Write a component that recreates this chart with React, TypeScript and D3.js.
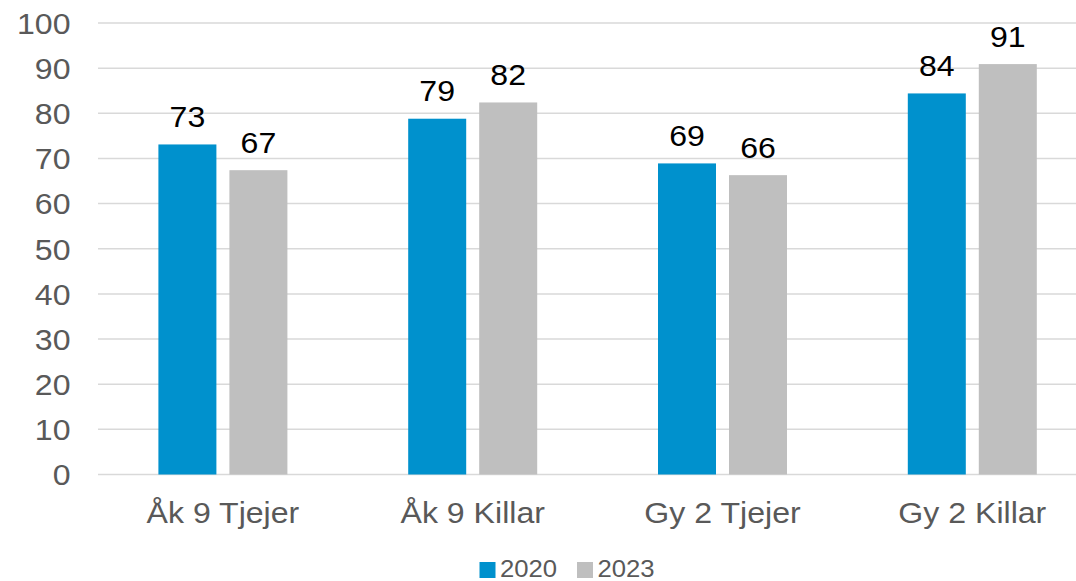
import React from "react";
import * as d3 from "d3";

const categories = ["Åk 9 Tjejer", "Åk 9 Killar", "Gy 2 Tjejer", "Gy 2 Killar"];
const seriesNames = ["2020", "2023"];
const values2020 = [73.1, 78.8, 68.9, 84.4];
const values2023 = [67.4, 82.4, 66.3, 90.9];
const yTicks = [0, 10, 20, 30, 40, 50, 60, 70, 80, 90, 100];
const colors = ["#0091CD", "#BFBFBF"];

const W = 1076;
const H = 581;
const FONT = "'Liberation Sans', Arial, Helvetica, sans-serif";
const SX = 1.07;

function T(props: { x: number; y: number; anchor?: string; size: number; fill: string; dy?: string; children: any }) {
  return (
    <text
      transform={`translate(${props.x},${props.y}) scale(${SX},1)`}
      dy={props.dy}
      textAnchor={props.anchor || "start"}
      fontSize={props.size}
      fill={props.fill}
    >
      {props.children}
    </text>
  );
}

export default function App() {
  const plotLeft = 98;
  const band = 249.8;
  const x = d3.scaleBand<string>().domain(categories).range([plotLeft, plotLeft + band * categories.length]).padding(0);
  const inner = d3.scaleBand<string>().domain(seriesNames).range([60.4, 189.4]).paddingInner(13 / 71).paddingOuter(0);
  const y = d3.scaleLinear().domain([0, 100]).range([474.5, 23]);
  const series = [values2020, values2023];

  return (
    <svg width={W} height={H} style={{ position: "absolute", left: 0, top: 0, background: "#fff" }} fontFamily={FONT}>
      <rect x={0} y={0} width={W} height={H} fill="#fff" />
      {yTicks.map((t) => (
        <g key={t}>
          <line x1={plotLeft} x2={plotLeft + band * categories.length} y1={y(t)} y2={y(t)} stroke="#D9D9D9" strokeWidth={1.5} />
          <T x={70.5} y={y(t)} dy="0.36em" anchor="end" size={30} fill="#595959">{t}</T>
        </g>
      ))}
      {categories.map((c, i) => (
        <g key={c}>
          {series.map((vals, s) => {
            const bx = (x(c) as number) + (inner(seriesNames[s]) as number);
            const bw = inner.bandwidth();
            return (
              <g key={s}>
                <rect x={bx} y={y(vals[i])} width={bw} height={y(0) - y(vals[i])} fill={colors[s]} />
                <T x={bx + bw / 2} y={y(vals[i]) - 17.5} anchor="middle" size={30} fill="#000">{Math.round(vals[i])}</T>
              </g>
            );
          })}
          <T x={(x(c) as number) + x.bandwidth() / 2} y={523.3} anchor="middle" size={30} fill="#595959">{c}</T>
        </g>
      ))}
      <g>
        <rect x={479.5} y={562} width={16} height={16} fill={colors[0]} />
        <T x={500} y={577} size={24} fill="#595959">{seriesNames[0]}</T>
        <rect x={577} y={562} width={16} height={16} fill={colors[1]} />
        <T x={597.5} y={577} size={24} fill="#595959">{seriesNames[1]}</T>
      </g>
    </svg>
  );
}
